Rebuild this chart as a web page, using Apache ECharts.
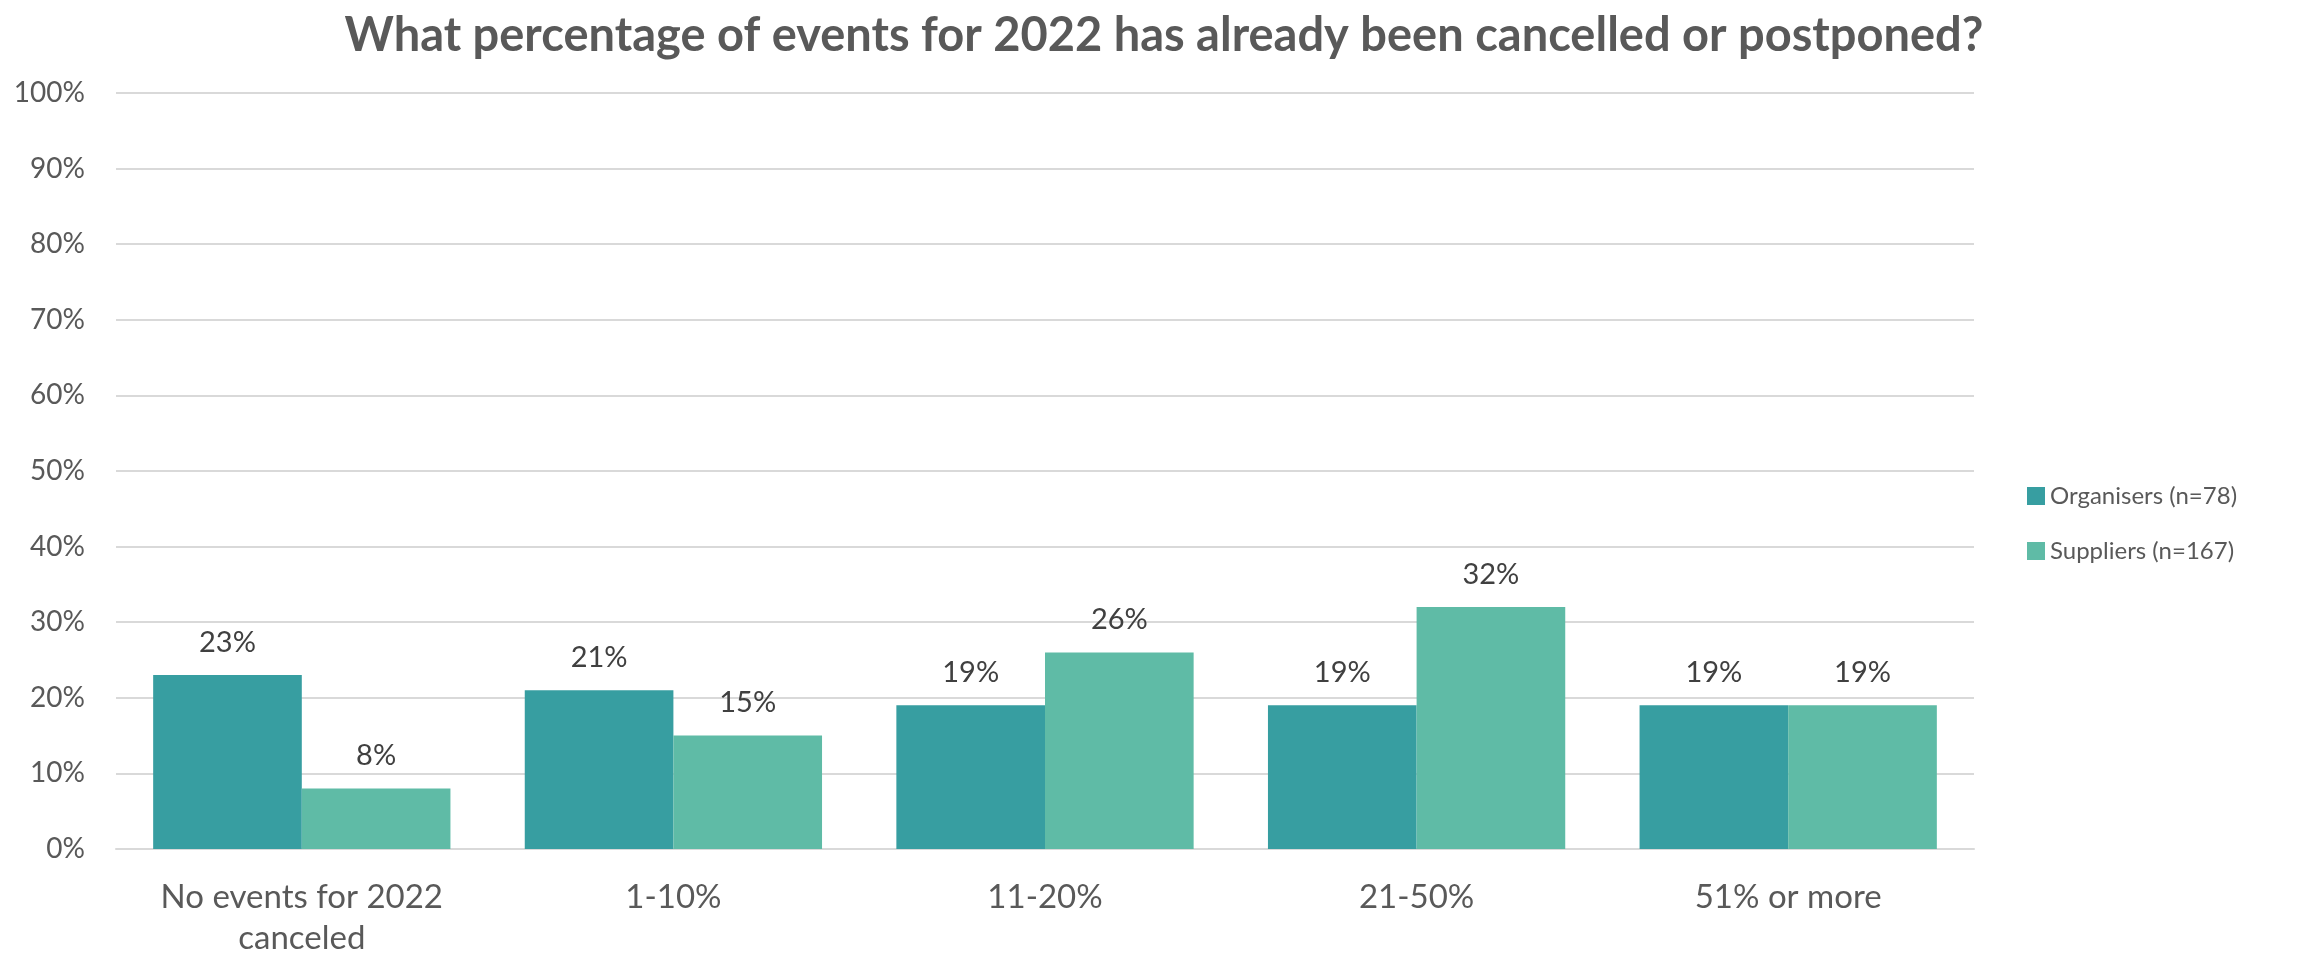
<!DOCTYPE html>
<html><head><meta charset="utf-8">
<script src="https://cdn.jsdelivr.net/npm/echarts@6/dist/echarts.min.js"></script>
<style>html,body{margin:0;padding:0;background:#fff}#c{width:2303px;height:959px}</style>
</head><body><div id="c"></div>
<script>
const categories = ['No events for 2022\ncanceled', '1-10%', '11-20%', '21-50%', '51% or more'];
const organisers = [23, 21, 19, 19, 19];
const suppliers = [8, 15, 26, 32, 19];
const seriesNames = ['Organisers (n=78)', 'Suppliers (n=167)'];
const titleText = 'What percentage of events for 2022 has already been cancelled or postponed?';

const FONT = 'Lato';
const TXT = '#595959';
const chart = echarts.init(document.getElementById('c'));
const lbl = {show: true, position: 'top', distance: 18, formatter: p => p.value + '%', color: '#404040', fontSize: 29, fontFamily: FONT};
chart.setOption({
  animation: false,
  title: {text: titleText, left: 1159, textAlign: 'center', top: 7,
    textStyle: {fontFamily: FONT, fontWeight: 'bold', fontSize: 47, color: TXT}},
  legend: {orient: 'vertical', left: 2022, top: 479, itemWidth: 18, itemHeight: 18, itemGap: 31,
    icon: 'rect', textStyle: {fontFamily: FONT, fontSize: 24, color: TXT}},
  grid: {left: 116, right: 329, top: 93, bottom: 107},
  xAxis: {type: 'category', data: categories,
    axisLine: {lineStyle: {color: '#D9D9D9', width: 2}}, axisTick: {show: false},
    axisLabel: {fontFamily: FONT, fontSize: 33, color: TXT, margin: 28, lineHeight: 41}},
  yAxis: {type: 'value', min: 0, max: 100, interval: 10,
    axisLabel: {formatter: '{value}%', fontFamily: FONT, fontSize: 28, color: TXT, margin: 31},
    splitLine: {lineStyle: {color: '#D9D9D9', width: 2}}, axisLine: {show: false}, axisTick: {show: false}},
  series: [
    {name: seriesNames[0], type: 'bar', data: organisers, barGap: '0%', barCategoryGap: '20%',
      itemStyle: {color: '#379EA1'}, label: lbl},
    {name: seriesNames[1], type: 'bar', data: suppliers,
      itemStyle: {color: '#5FBBA6'}, label: lbl}
  ]
});
</script></body></html>
